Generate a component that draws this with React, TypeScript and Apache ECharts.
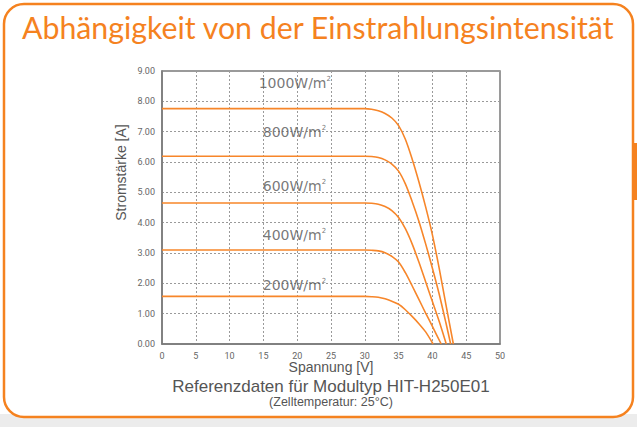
import React, { useEffect, useRef } from "react";
import * as echarts from "echarts";

const volts1000 = [0, 29, 30, 31, 32, 33, 34, 35, 36, 37, 38, 39, 40, 41, 42, 43.1];
const amps1000 = [7.76, 7.76, 7.76, 7.74, 7.69, 7.6, 7.45, 7.2, 6.75, 6.1, 5.35, 4.52, 3.6, 2.5, 1.3, 0];
const volts800 = [0, 29, 30, 31, 32, 33, 34, 35, 36, 37, 38, 39, 40, 41, 42, 42.7];
const amps800 = [6.19, 6.19, 6.19, 6.18, 6.15, 6.07, 5.93, 5.7, 5.28, 4.7, 4.05, 3.3, 2.5, 1.65, 0.7, 0];
const volts600 = [0, 29, 30, 31, 32, 33, 34, 35, 36, 37, 38, 39, 40, 41, 42.05];
const amps600 = [4.65, 4.65, 4.65, 4.64, 4.61, 4.53, 4.4, 4.17, 3.8, 3.3, 2.7, 2.05, 1.4, 0.75, 0];
const volts400 = [0, 29, 30, 31, 32, 33, 34, 35, 36, 37, 38, 39, 40, 41.3];
const amps400 = [3.1, 3.1, 3.1, 3.09, 3.07, 3.01, 2.89, 2.7, 2.35, 1.92, 1.47, 1.02, 0.58, 0];
const volts200 = [0, 29, 30, 31, 32, 33, 34, 35, 36, 37, 38, 39, 40.1];
const amps200 = [1.57, 1.57, 1.57, 1.56, 1.54, 1.49, 1.41, 1.31, 1.13, 0.91, 0.67, 0.4, 0];

const irradiance = ["1000", "800", "600", "400", "200"];
const labelVolts = [14.3, 14.9, 14.9, 14.9, 14.9];
const labelAmps = [8.6, 7.0, 5.22, 3.6, 1.96];

const titleText = "Abhängigkeit von der Einstrahlungsintensität";
const xName = "Spannung [V]";
const yName = "Stromstärke [A]";
const subtitle = "Referenzdaten für Modultyp HIT-H250E01";
const subsubtitle = "(Zelltemperatur: 25°C)";

const ORANGE = "#f5821f";
const LINE = "#f7862a";
const GRAY = "#555";

function zip(xs: number[], ys: number[]) {
  return xs.map((x, i) => [x, ys[i]]);
}

function measure(text: string, font: string) {
  const c = document.createElement("canvas");
  const ctx = c.getContext("2d");
  if (!ctx) return 0;
  ctx.font = font;
  return ctx.measureText(text).width;
}

export default function App() {
  const ref = useRef<HTMLDivElement>(null);
  useEffect(() => {
    if (!ref.current) return;
    const chart = echarts.init(ref.current, undefined, { renderer: "svg" });
    const titleFont = "30px Lato";
    const tw = measure(titleText, titleFont) || 593;
    const titleScale = 593 / tw;

    const curves = [
      zip(volts1000, amps1000),
      zip(volts800, amps800),
      zip(volts600, amps600),
      zip(volts400, amps400),
      zip(volts200, amps200),
    ];

    const lineSeries = curves.map((d, i) => ({
      type: "line",
      name: irradiance[i],
      data: d,
      smooth: 0.3,
      showSymbol: false,
      lineStyle: { color: LINE, width: 1.6 },
      z: 3,
    }));

    chart.setOption({
      animation: false,
      backgroundColor: "#ffffff",
      grid: {
        left: 162,
        right: 137,
        top: 71,
        bottom: 83,
        show: true,
        borderColor: "#7a7a7a",
        borderWidth: 1.5,
        backgroundColor: "transparent",
      },
      xAxis: {
        type: "value",
        min: 0,
        max: 50,
        interval: 5,
        axisLine: { show: true, lineStyle: { color: "#7a7a7a", width: 1.5 } },
        axisTick: { show: false },
        axisLabel: { color: "#666", fontFamily: "Roboto", fontSize: 9, margin: 7 },
        splitLine: { show: true, lineStyle: { color: "#9a9a9a", type: [2, 2], width: 1 } },
      },
      yAxis: {
        type: "value",
        min: 0,
        max: 9,
        interval: 1,
        axisLine: { show: true, lineStyle: { color: "#7a7a7a", width: 1.5 } },
        axisTick: { show: false },
        axisLabel: {
          color: "#666",
          fontFamily: "Roboto",
          fontSize: 9,
          margin: 7,
          formatter: (v: number) => v.toFixed(2),
        },
        splitLine: { show: true, lineStyle: { color: "#9a9a9a", type: [2, 2], width: 1 } },
      },
      series: [
        ...lineSeries,
        {
          type: "scatter",
          data: labelVolts.map((x, i) => [x, labelAmps[i], irradiance[i]]),
          symbolSize: 0,
          z: 4,
          label: {
            show: true,
            position: "right",
            distance: 0,
            formatter: (p: any) => `{a|${p.value[2]}W/m}{s|2}`,
            rich: {
              a: { fontFamily: "DejaVu Sans", fontSize: 14, color: GRAY },
              s: { fontFamily: "DejaVu Sans", fontSize: 7, color: GRAY, verticalAlign: "top", padding: [0, 0, 8, 0] },
            },
          },
        },
      ],
      graphic: [
        {
          type: "rect",
          z: -10,
          shape: { x: 0, y: 414, width: 637, height: 13 },
          style: { fill: "#ececec" },
          silent: true,
        },
        {
          type: "rect",
          z: -9,
          shape: { x: 4, y: 4, width: 629, height: 413, r: 20 },
          style: { fill: "#ffffff", stroke: ORANGE, lineWidth: 2.5 },
          silent: true,
        },
        {
          type: "rect",
          z: -8,
          shape: { x: 634, y: 143, width: 3, height: 57 },
          style: { fill: ORANGE },
          silent: true,
        },
        {
          type: "text",
          x: 22,
          y: 27,
          scaleX: titleScale,
          style: {
            text: titleText,
            font: titleFont,
            fill: ORANGE,
            textAlign: "left",
            textVerticalAlign: "middle",
          },
        },
        {
          type: "text",
          x: 120.7,
          y: 172.5,
          rotation: Math.PI / 2,
          style: {
            text: yName,
            font: "14px 'Liberation Sans'",
            fill: GRAY,
            textAlign: "center",
            textVerticalAlign: "middle",
          },
        },
        {
          type: "text",
          x: 331,
          y: 367,
          style: {
            text: xName,
            font: "14px 'Liberation Sans'",
            fill: GRAY,
            textAlign: "center",
            textVerticalAlign: "middle",
          },
        },
        {
          type: "text",
          x: 331,
          y: 386,
          style: {
            text: subtitle,
            font: "17px 'Liberation Sans'",
            fill: GRAY,
            textAlign: "center",
            textVerticalAlign: "middle",
          },
        },
        {
          type: "text",
          x: 331,
          y: 401.5,
          style: {
            text: subsubtitle,
            font: "12.5px 'Liberation Sans'",
            fill: GRAY,
            textAlign: "center",
            textVerticalAlign: "middle",
          },
        },
      ],
    });
    return () => chart.dispose();
  }, []);
  return (
    <div
      ref={ref}
      style={{ position: "fixed", left: 0, top: 0, width: 637, height: 427 }}
    />
  );
}
